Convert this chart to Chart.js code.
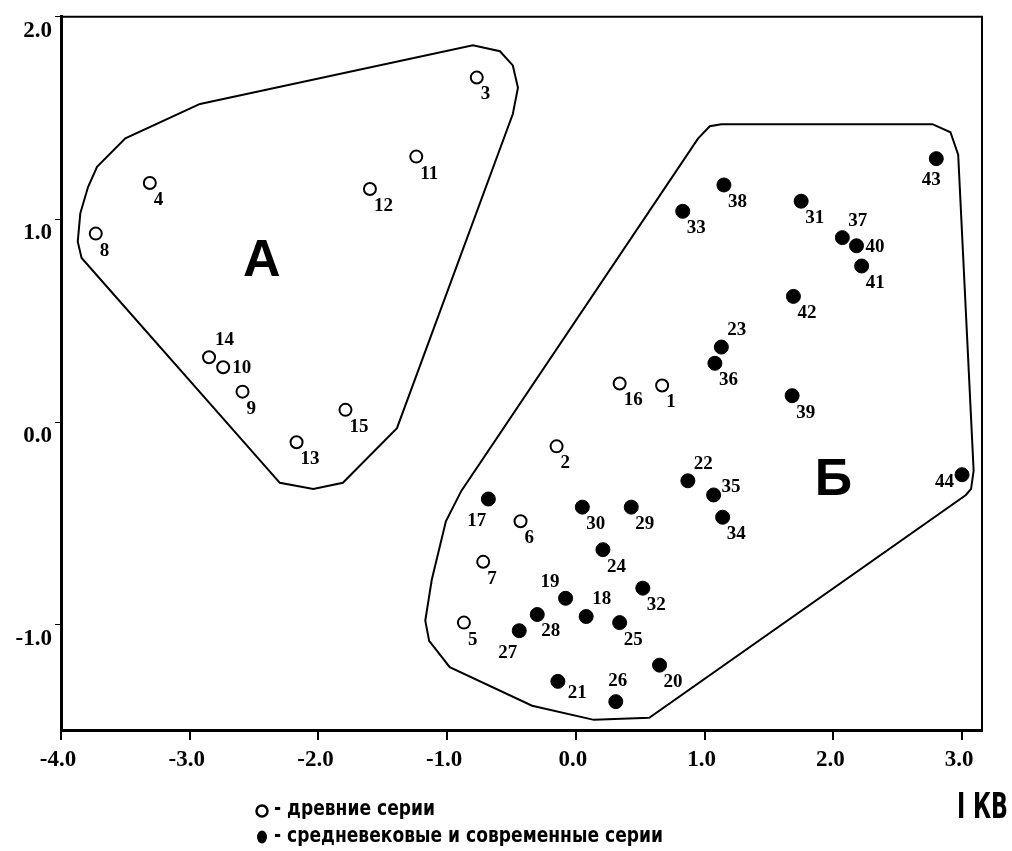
<!DOCTYPE html>
<html>
<head>
<meta charset="utf-8">
<script src="https://cdn.jsdelivr.net/npm/chart.js@4/dist/chart.umd.min.js"></script>
<style>
  body { margin: 0; background: #fff; }
</style>
</head>
<body>
<canvas id="kv-chart" width="1012" height="851"></canvas>
<script>
// древние серии (open circles)
const ancientIds = [1, 2, 3, 4, 5, 6, 7, 8, 9, 10, 11, 12, 13, 14, 15, 16];
const ancientX = [0.67, -0.15, -0.77, -3.31, -0.87, -0.43, -0.72, -3.73, -2.59, -2.74, -1.24, -1.60, -2.17, -2.85, -1.79, 0.34];
const ancientY = [0.18, -0.12, 1.70, 1.18, -0.99, -0.49, -0.69, 0.93, 0.15, 0.27, 1.31, 1.15, -0.10, 0.32, 0.06, 0.19];

// средневековые и современные серии (filled circles)
const modernIds = [17, 18, 19, 20, 21, 22, 23, 24, 25, 26, 27, 28, 29, 30, 31, 32, 33, 34, 35, 36, 37, 38, 39, 40, 41, 42, 43, 44];
const modernX = [-0.68, 0.08, -0.08, 0.65, -0.14, 0.87, 1.13, 0.21, 0.34, 0.31, -0.44, -0.30, 0.43, 0.05, 1.75, 0.52, 0.83, 1.14, 1.07, 1.08, 2.07, 1.15, 1.68, 2.18, 2.22, 1.69, 2.80, 3.00];
const modernY = [-0.38, -0.96, -0.87, -1.20, -1.28, -0.29, 0.37, -0.63, -0.99, -1.38, -1.03, -0.95, -0.42, -0.42, 1.09, -0.82, 1.04, -0.47, -0.36, 0.29, 0.91, 1.17, 0.13, 0.87, 0.77, 0.62, 1.30, -0.26];

// group outlines
const hullAX = [-2.92, -0.80, -0.59, -0.49, -0.45, -0.49, -1.39, -1.81, -2.04, -2.30, -3.84, -3.87, -3.85, -3.79, -3.72, -3.50, -2.92];
const hullAY = [1.57, 1.86, 1.83, 1.76, 1.65, 1.52, -0.03, -0.30, -0.33, -0.30, 0.81, 0.89, 1.03, 1.16, 1.26, 1.40, 1.57];
const hullBX = [0.95, 1.04, 1.13, 2.77, 2.91, 2.97, 3.09, 3.07, 3.03, 0.57, 0.14, -0.34, -0.98, -1.14, -1.17, -1.12, -1.01, -0.89, 0.95];
const hullBY = [1.40, 1.46, 1.47, 1.47, 1.43, 1.32, -0.24, -0.33, -0.36, -1.46, -1.47, -1.40, -1.21, -1.08, -0.98, -0.78, -0.49, -0.34, 1.40];

const groupNames = ['А', 'Б'];
const groupX = [-2.44, 2.0];
const groupY = [0.80, -0.28];

const xTicks = [-4, -3, -2, -1, 0, 1, 2, 3];
const yTicks = [-1, 0, 1, 2];

// where each number sits relative to its point
const ancientLabelPos = ['se', 'se', 'se', 'se', 'se', 'se', 'se', 'se', 'se', 'e', 'se', 'se', 'se', 'ne', 'se', 'se'];
const modernLabelPos = ['sw', 'ne', 'nw', 'se', 'ese', 'ne', 'ne', 'se', 'se', 'n', 'sw', 'se', 'se', 'se', 'se', 'se', 'se', 'se', 'ene', 'se', 'ne', 'se', 'se', 'e', 'se', 'se', 's', 'w'];

const labelOffsets = {
    se:  { dx: 4,   dy: 17,  align: 'left' },
    ne:  { dx: 6,   dy: -17, align: 'left' },
    nw:  { dx: -6,  dy: -16, align: 'right' },
    sw:  { dx: -2,  dy: 22,  align: 'right' },
    e:   { dx: 9,   dy: 1,   align: 'left' },
    ene: { dx: 8,   dy: -8,  align: 'left' },
    ese: { dx: 10,  dy: 12,  align: 'left' },
    n:   { dx: 2,   dy: -21, align: 'center' },
    s:   { dx: -5,  dy: 21,  align: 'center' },
    w:   { dx: -8,  dy: 7,   align: 'right' }
};

function toPoints(xs, ys) {
    return xs.map((x, i) => ({ x: x, y: ys[i] }));
}

// numbers next to the points, group letters, frame and legend
const annotationPlugin = {
    id: 'annotations',
    afterDatasetsDraw(chart) {
        const ctx = chart.ctx;
        const area = chart.chartArea;
        ctx.save();

        // top and right frame lines
        ctx.strokeStyle = '#000';
        ctx.lineWidth = 2;
        ctx.beginPath();
        ctx.moveTo(area.left, area.top);
        ctx.lineTo(area.right, area.top);
        ctx.lineTo(area.right, area.bottom);
        ctx.stroke();

        ctx.fillStyle = '#000';
        ctx.font = 'bold 19px "Liberation Serif", serif';
        ctx.textBaseline = 'middle';
        const drawNumbers = (datasetIndex, ids, pos) => {
            const meta = chart.getDatasetMeta(datasetIndex);
            meta.data.forEach((pt, i) => {
                const o = labelOffsets[pos[i]];
                ctx.textAlign = o.align;
                ctx.fillText(String(ids[i]), pt.x + o.dx, pt.y + o.dy);
            });
        };
        drawNumbers(2, ancientIds, ancientLabelPos);
        drawNumbers(3, modernIds, modernLabelPos);

        const xs = chart.scales.x, ys = chart.scales.y;
        ctx.font = 'bold 52px "Liberation Sans", Arial, sans-serif';
        ctx.textAlign = 'center';
        groupNames.forEach((name, i) => {
            ctx.fillText(name, xs.getPixelForValue(groupX[i]), ys.getPixelForValue(groupY[i]) + 2);
        });
        ctx.restore();
    },
    afterDraw(chart) {
        const ctx = chart.ctx;
        ctx.save();
        ctx.fillStyle = '#000';
        ctx.strokeStyle = '#000';
        ctx.textBaseline = 'middle';
        ctx.textAlign = 'left';

        ctx.lineWidth = 2.5;
        ctx.beginPath();
        ctx.arc(262, 811, 5.5, 0, Math.PI * 2);
        ctx.stroke();
        ctx.beginPath();
        ctx.ellipse(262, 837, 5, 6.5, 0, 0, Math.PI * 2);
        ctx.fill();

        ctx.font = 'bold 21px "DejaVu Sans", "Liberation Sans", sans-serif';
        ctx.fillText('- древние серии', 274, 810, 161);
        ctx.fillText('- средневековые и современные серии', 274, 837, 389);

        ctx.font = 'bold 36px "Liberation Sans Narrow", "DejaVu Sans Condensed", "Liberation Sans", sans-serif';
        ctx.fillText('I КВ', 957, 809, 51);
        ctx.restore();
    }
};

const tickFont = { family: '"Liberation Serif", serif', size: 23, weight: 'bold' };

new Chart(document.getElementById('kv-chart'), {
    type: 'scatter',
    data: {
        datasets: [
            {
                label: 'A',
                data: toPoints(hullAX, hullAY),
                showLine: true,
                borderColor: '#000',
                borderWidth: 2,
                pointRadius: 0,
                fill: false,
                tension: 0
            },
            {
                label: 'Б',
                data: toPoints(hullBX, hullBY),
                showLine: true,
                borderColor: '#000',
                borderWidth: 2,
                pointRadius: 0,
                fill: false,
                tension: 0
            },
            {
                label: 'древние серии',
                data: toPoints(ancientX, ancientY),
                pointStyle: 'circle',
                pointRadius: 6,
                pointBorderWidth: 2,
                pointBackgroundColor: '#fff',
                pointBorderColor: '#000'
            },
            {
                label: 'средневековые и современные серии',
                data: toPoints(modernX, modernY),
                pointStyle: 'circle',
                pointRadius: 7,
                pointBorderWidth: 1,
                pointBackgroundColor: '#000',
                pointBorderColor: '#000'
            }
        ]
    },
    options: {
        responsive: false,
        animation: false,
        devicePixelRatio: 1,
        layout: { padding: { top: 15, right: 30, left: 0, bottom: 0 } },
        plugins: {
            legend: { display: false },
            tooltip: { enabled: false }
        },
        scales: {
            x: {
                type: 'linear',
                min: -4,
                max: 3.155,
                afterBuildTicks: (axis) => { axis.ticks = xTicks.map(v => ({ value: v })); },
                afterFit: (axis) => { axis.height = 121; },
                ticks: {
                    color: '#000',
                    font: tickFont,
                    padding: 6,
                    labelOffset: -3,
                    maxRotation: 0,
                    callback: (v) => v.toFixed(1)
                },
                grid: { drawOnChartArea: false, drawTicks: true, tickLength: 10, color: '#000', lineWidth: 2 },
                border: { display: true, color: '#000', width: 3 }
            },
            y: {
                type: 'linear',
                min: -1.52,
                max: 2.0,
                afterBuildTicks: (axis) => { axis.ticks = yTicks.map(v => ({ value: v })); },
                afterFit: (axis) => { axis.width = 61; },
                ticks: {
                    color: '#000',
                    font: tickFont,
                    padding: 3,
                    labelOffset: 14,
                    callback: (v) => v.toFixed(1)
                },
                grid: { drawOnChartArea: false, drawTicks: true, tickLength: 6, color: '#000', lineWidth: 1 },
                border: { display: true, color: '#000', width: 3 }
            }
        }
    },
    plugins: [annotationPlugin]
});
</script>
</body>
</html>
